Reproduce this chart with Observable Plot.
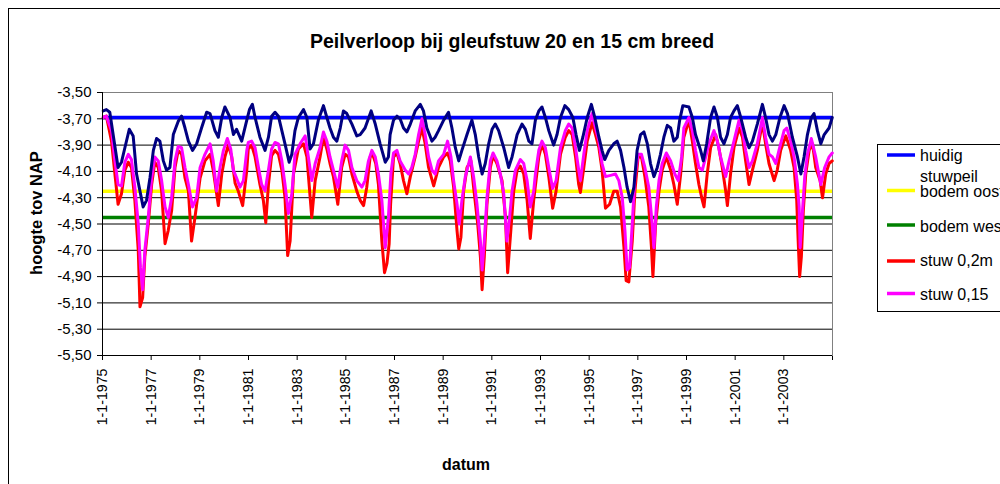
<!DOCTYPE html>
<html><head><meta charset="utf-8">
<script src="https://cdn.jsdelivr.net/npm/d3@7"></script>
<script src="https://cdn.jsdelivr.net/npm/@observablehq/plot@0.6"></script>
<style>
body{margin:0;background:#fff;}
#wrap{position:relative;width:1000px;height:484px;overflow:hidden;font-family:"Liberation Sans",Arial,sans-serif;background:#fff;}
#wrap svg{position:absolute;left:0;top:0;}
#wrap g[aria-label="x-axis tick label"]{font-size:14.2px;}
</style></head><body><div id="wrap"></div>
<script>
// ---- data ----
const titleText = "Peilverloop bij gleufstuw 20 en 15 cm breed";
const xLabel = "datum";
const yLabel = "hoogte tov NAP";
const xTickYears = [1975,1977,1979,1981,1983,1985,1987,1989,1991,1993,1995,1997,1999,2001,2003,2005];
const yTicks = [-5.5,-5.3,-5.1,-4.9,-4.7,-4.5,-4.3,-4.1,-3.9,-3.7,-3.5];
const levelNames = ["huidig stuwpeil","bodem oost","bodem west"];
const levelValues = [-3.69,-4.25,-4.45];
const seriesNames = ["huidig","stuw 0,2m","stuw 0,15"];
const legendLabels = ["huidig stuwpeil","bodem oost","bodem west","stuw 0,2m","stuw 0,15"];

// [decimal year, level m NAP]
const huidig = [
[1975.03,-3.64],[1975.16,-3.63],[1975.30,-3.65],[1975.64,-4.07],[1975.78,-4.03],[1975.92,-3.92],[1976.10,-3.78],[1976.26,-3.83],[1976.40,-4.12],[1976.54,-4.25],[1976.67,-4.37],[1976.81,-4.32],[1976.95,-4.15],[1977.09,-3.94],[1977.22,-3.85],[1977.36,-3.87],[1977.50,-4.02],[1977.63,-4.09],[1977.77,-4.07],[1977.91,-3.82],[1978.11,-3.72],[1978.25,-3.68],[1978.39,-3.77],[1978.53,-3.87],[1978.70,-3.94],[1978.87,-3.89],[1979.07,-3.77],[1979.28,-3.65],[1979.42,-3.66],[1979.62,-3.79],[1979.76,-3.84],[1979.90,-3.69],[1980.03,-3.61],[1980.24,-3.69],[1980.38,-3.82],[1980.51,-3.78],[1980.72,-3.87],[1980.93,-3.71],[1981.04,-3.63],
[1981.16,-3.59],[1981.27,-3.69],[1981.47,-3.84],[1981.68,-3.94],[1981.82,-3.84],[1981.95,-3.68],[1982.09,-3.65],[1982.23,-3.68],[1982.37,-3.79],[1982.50,-3.89],[1982.67,-4.03],[1982.78,-3.97],[1982.91,-3.79],[1983.05,-3.69],[1983.26,-3.63],[1983.40,-3.69],[1983.53,-3.93],[1983.67,-3.89],[1983.87,-3.71],[1984.08,-3.60],[1984.22,-3.69],[1984.35,-3.77],[1984.49,-3.84],[1984.63,-3.87],[1984.77,-3.77],[1984.90,-3.64],[1985.04,-3.66],[1985.25,-3.74],[1985.45,-3.83],[1985.59,-3.82],[1985.79,-3.77],[1986.04,-3.64],[1986.21,-3.74],[1986.41,-3.89],[1986.62,-4.03],[1986.75,-3.99],
[1986.82,-3.82],[1986.96,-3.71],[1987.10,-3.68],[1987.23,-3.70],[1987.37,-3.77],[1987.51,-3.80],[1987.65,-3.74],[1987.85,-3.64],[1988.06,-3.59],[1988.19,-3.64],[1988.33,-3.77],[1988.54,-3.87],[1988.67,-3.84],[1988.81,-3.79],[1989.02,-3.71],[1989.22,-3.65],[1989.36,-3.77],[1989.50,-3.92],[1989.64,-4.02],[1989.77,-3.94],[1989.98,-3.82],[1990.18,-3.71],[1990.32,-3.82],[1990.46,-3.99],[1990.60,-4.12],[1990.73,-4.04],[1990.87,-3.89],[1991.01,-3.78],[1991.14,-3.74],[1991.28,-3.79],[1991.49,-3.92],[1991.69,-4.07],[1991.83,-3.99],[1992.04,-3.82],[1992.24,-3.74],[1992.38,-3.78],[1992.52,-3.87],[1992.65,-3.89],
[1992.79,-3.71],[1992.93,-3.64],[1993.06,-3.61],[1993.20,-3.69],[1993.34,-3.79],[1993.54,-3.90],[1993.68,-3.82],[1993.82,-3.69],[1994.00,-3.60],[1994.16,-3.63],[1994.33,-3.69],[1994.46,-3.82],[1994.60,-3.94],[1994.74,-3.84],[1994.92,-3.69],[1995.09,-3.59],[1995.23,-3.69],[1995.40,-3.84],[1995.53,-3.94],[1995.64,-4.01],[1995.81,-3.94],[1996.01,-3.89],[1996.15,-3.87],[1996.29,-3.94],[1996.43,-4.07],[1996.56,-4.22],[1996.70,-4.33],[1996.84,-4.22],[1996.97,-3.94],[1997.11,-3.82],[1997.25,-3.80],[1997.39,-3.89],[1997.52,-4.04],[1997.66,-4.14],[1997.80,-4.07],[1997.93,-3.97],[1998.07,-3.84],[1998.21,-3.75],[1998.35,-3.77],[1998.48,-3.87],[1998.62,-3.84],
[1998.72,-3.71],[1998.85,-3.60],[1999.10,-3.61],[1999.24,-3.69],[1999.37,-3.82],[1999.58,-3.94],[1999.69,-4.02],[1999.83,-3.89],[1999.99,-3.69],[2000.13,-3.61],[2000.27,-3.69],[2000.40,-3.84],[2000.54,-3.89],[2000.68,-3.82],[2000.81,-3.69],[2000.95,-3.64],[2001.09,-3.60],[2001.23,-3.69],[2001.43,-3.84],[2001.57,-3.92],[2001.71,-3.87],[2001.91,-3.74],[2002.12,-3.59],[2002.25,-3.69],[2002.39,-3.82],[2002.53,-3.87],[2002.67,-3.82],[2002.84,-3.69],[2003.01,-3.60],[2003.15,-3.66],[2003.35,-3.84],[2003.56,-3.99],[2003.70,-4.12],[2003.83,-3.99],[2003.97,-3.82],[2004.13,-3.69],[2004.24,-3.66],[2004.38,-3.79],[2004.52,-3.89],[2004.66,-3.82],[2004.86,-3.77],[2004.99,-3.69]
];

const stuw02 = [
[1975.03,-3.69],[1975.16,-3.68],[1975.37,-3.87],[1975.51,-4.12],[1975.64,-4.35],[1975.78,-4.27],[1975.92,-4.09],[1976.06,-4.03],[1976.19,-4.07],[1976.33,-4.32],[1976.47,-4.70],[1976.54,-5.13],[1976.65,-5.06],[1976.74,-4.75],[1976.88,-4.50],[1977.02,-4.20],[1977.15,-4.03],[1977.29,-4.07],[1977.43,-4.25],[1977.57,-4.65],[1977.70,-4.55],[1977.84,-4.40],[1977.98,-4.07],[1978.11,-3.94],[1978.25,-3.97],[1978.39,-4.15],[1978.53,-4.25],[1978.66,-4.63],[1978.80,-4.45],[1979.01,-4.15],[1979.21,-4.02],[1979.42,-3.97],[1979.55,-4.09],[1979.76,-4.36],[1979.90,-4.12],[1980.03,-3.99],[1980.17,-3.90],[1980.31,-3.99],[1980.45,-4.19],[1980.58,-4.25],[1980.76,-4.36],[1980.93,-4.09],
[1980.99,-3.93],[1981.13,-3.90],[1981.27,-3.99],[1981.47,-4.20],[1981.61,-4.32],[1981.71,-4.49],[1981.82,-4.20],[1981.95,-3.98],[1982.09,-3.94],[1982.23,-3.97],[1982.37,-4.09],[1982.50,-4.30],[1982.61,-4.74],[1982.71,-4.63],[1982.85,-4.12],[1983.05,-3.93],[1983.26,-3.89],[1983.40,-3.99],[1983.60,-4.45],[1983.74,-4.17],[1983.94,-3.99],[1984.08,-3.84],[1984.22,-3.93],[1984.35,-4.04],[1984.49,-4.14],[1984.67,-4.35],[1984.83,-4.07],[1984.97,-3.97],[1985.11,-3.99],[1985.25,-4.12],[1985.45,-4.25],[1985.59,-4.32],[1985.73,-4.36],[1985.86,-4.22],[1986.00,-3.99],[1986.10,-3.97],[1986.23,-4.04],[1986.34,-4.20],[1986.48,-4.63],[1986.59,-4.87],[1986.69,-4.80],[1986.78,-4.65],
[1986.84,-4.35],[1986.96,-3.99],[1987.10,-3.96],[1987.23,-4.04],[1987.37,-4.17],[1987.51,-4.27],[1987.65,-4.14],[1987.85,-3.99],[1987.99,-3.87],[1988.13,-3.77],[1988.26,-3.89],[1988.40,-4.07],[1988.61,-4.21],[1988.81,-4.07],[1989.02,-3.99],[1989.18,-3.96],[1989.29,-4.02],[1989.43,-4.22],[1989.57,-4.55],[1989.64,-4.69],[1989.73,-4.60],[1989.84,-4.25],[1989.98,-4.07],[1990.14,-4.02],[1990.25,-4.22],[1990.42,-4.50],[1990.53,-4.75],[1990.60,-5.00],[1990.69,-4.75],[1990.80,-4.35],[1990.94,-4.07],[1991.05,-3.98],[1991.21,-4.04],[1991.42,-4.17],[1991.56,-4.45],[1991.65,-4.87],[1991.76,-4.60],[1991.90,-4.25],[1992.04,-4.09],[1992.17,-4.06],[1992.31,-4.12],[1992.45,-4.32],[1992.58,-4.61],[1992.72,-4.32],
[1992.93,-3.99],[1993.06,-3.89],[1993.20,-3.97],[1993.34,-4.14],[1993.50,-4.38],[1993.64,-4.25],[1993.82,-3.97],[1994.02,-3.84],[1994.16,-3.79],[1994.30,-3.82],[1994.44,-3.99],[1994.57,-4.20],[1994.64,-4.26],[1994.78,-4.07],[1994.92,-3.87],[1995.12,-3.73],[1995.26,-3.82],[1995.40,-3.92],[1995.53,-4.09],[1995.67,-4.38],[1995.84,-4.35],[1996.01,-4.25],[1996.15,-4.25],[1996.29,-4.37],[1996.43,-4.68],[1996.52,-4.93],[1996.63,-4.94],[1996.77,-4.63],[1996.88,-4.25],[1997.01,-3.99],[1997.15,-3.99],[1997.29,-4.14],[1997.45,-4.37],[1997.56,-4.68],[1997.62,-4.90],[1997.73,-4.50],[1997.87,-4.25],[1998.00,-4.09],[1998.17,-3.99],[1998.35,-4.09],[1998.48,-4.20],[1998.62,-4.35],[1998.76,-4.12],
[1998.89,-3.84],[1999.10,-3.71],[1999.24,-3.87],[1999.37,-4.04],[1999.51,-4.20],[1999.65,-4.32],[1999.72,-4.37],[1999.85,-4.12],[1999.99,-3.92],[2000.20,-3.82],[2000.33,-3.92],[2000.47,-4.07],[2000.61,-4.25],[2000.68,-4.36],[2000.81,-4.12],[2000.95,-3.92],[2001.16,-3.77],[2001.30,-3.84],[2001.43,-4.02],[2001.57,-4.20],[2001.71,-4.09],[2001.91,-3.94],[2002.12,-3.73],[2002.25,-3.89],[2002.39,-4.04],[2002.60,-4.17],[2002.73,-4.09],[2002.87,-3.94],[2003.08,-3.83],[2003.28,-3.94],[2003.42,-4.07],[2003.53,-4.32],[2003.59,-4.63],[2003.65,-4.90],[2003.72,-4.75],[2003.80,-4.40],[2003.90,-4.12],[2004.04,-3.94],[2004.18,-3.89],[2004.31,-4.07],[2004.49,-4.17],[2004.59,-4.30],[2004.72,-4.12],[2004.86,-4.04],[2004.99,-4.02]
];

const stuw015 = [
[1975.03,-3.69],[1975.16,-3.68],[1975.37,-3.79],[1975.51,-4.02],[1975.64,-4.20],[1975.78,-4.21],[1975.92,-4.03],[1976.06,-3.97],[1976.19,-4.01],[1976.33,-4.22],[1976.47,-4.50],[1976.56,-4.83],[1976.65,-5.00],[1976.74,-4.70],[1976.88,-4.45],[1977.02,-4.15],[1977.15,-3.99],[1977.29,-4.02],[1977.43,-4.17],[1977.57,-4.37],[1977.70,-4.45],[1977.84,-4.30],[1977.98,-4.02],[1978.11,-3.91],[1978.25,-3.92],[1978.39,-4.07],[1978.53,-4.20],[1978.70,-4.37],[1978.87,-4.30],[1979.01,-4.07],[1979.21,-3.97],[1979.42,-3.89],[1979.55,-4.02],[1979.69,-4.25],[1979.83,-4.07],[1979.97,-3.94],[1980.13,-3.85],[1980.27,-3.93],[1980.38,-4.09],[1980.51,-4.15],[1980.65,-4.22],[1980.79,-4.17],[1980.93,-3.94],
[1980.99,-3.88],[1981.13,-3.87],[1981.27,-3.92],[1981.41,-4.07],[1981.54,-4.20],[1981.68,-4.25],[1981.82,-4.09],[1981.95,-3.93],[1982.09,-3.88],[1982.23,-3.89],[1982.37,-4.02],[1982.50,-4.20],[1982.64,-4.42],[1982.78,-4.27],[1982.91,-3.97],[1983.12,-3.89],[1983.33,-3.83],[1983.46,-3.99],[1983.60,-4.17],[1983.74,-4.04],[1983.94,-3.92],[1984.08,-3.80],[1984.22,-3.87],[1984.35,-3.99],[1984.49,-4.09],[1984.67,-4.22],[1984.83,-4.02],[1984.97,-3.90],[1985.11,-3.94],[1985.25,-4.07],[1985.45,-4.17],[1985.66,-4.22],[1985.79,-4.17],[1985.93,-4.02],[1986.07,-3.94],[1986.21,-3.99],[1986.34,-4.12],[1986.48,-4.32],[1986.62,-4.68],[1986.75,-4.45],
[1986.85,-4.12],[1986.96,-3.96],[1987.10,-3.94],[1987.23,-4.02],[1987.44,-4.09],[1987.58,-4.12],[1987.71,-4.07],[1987.85,-3.97],[1987.99,-3.82],[1988.13,-3.70],[1988.26,-3.82],[1988.40,-3.99],[1988.54,-4.09],[1988.67,-4.12],[1988.81,-4.02],[1989.02,-3.97],[1989.18,-3.87],[1989.32,-3.99],[1989.43,-4.17],[1989.57,-4.35],[1989.66,-4.50],[1989.77,-4.32],[1989.91,-4.14],[1990.12,-3.99],[1990.25,-4.14],[1990.39,-4.35],[1990.53,-4.63],[1990.60,-4.85],[1990.69,-4.63],[1990.80,-4.30],[1990.94,-4.02],[1991.05,-3.96],[1991.21,-4.02],[1991.35,-4.12],[1991.49,-4.27],[1991.62,-4.63],[1991.73,-4.45],[1991.83,-4.25],[1991.97,-4.09],[1992.17,-4.01],[1992.31,-4.04],[1992.45,-4.17],[1992.58,-4.37],[1992.72,-4.25],
[1992.79,-4.12],[1992.93,-3.94],[1993.06,-3.87],[1993.20,-3.92],[1993.34,-4.07],[1993.50,-4.23],[1993.64,-4.17],[1993.82,-3.92],[1994.02,-3.79],[1994.16,-3.74],[1994.30,-3.77],[1994.44,-3.92],[1994.57,-4.09],[1994.64,-4.17],[1994.78,-3.97],[1994.92,-3.79],[1995.12,-3.66],[1995.26,-3.77],[1995.40,-3.87],[1995.53,-4.04],[1995.67,-4.14],[1995.88,-4.13],[1996.08,-4.12],[1996.22,-4.17],[1996.36,-4.30],[1996.47,-4.55],[1996.56,-4.85],[1996.66,-4.83],[1996.77,-4.50],[1996.88,-4.14],[1997.01,-3.97],[1997.15,-3.97],[1997.29,-4.07],[1997.45,-4.22],[1997.59,-4.50],[1997.66,-4.68],[1997.76,-4.37],[1997.87,-4.17],[1998.00,-4.04],[1998.17,-3.96],[1998.35,-4.02],[1998.52,-4.12],[1998.66,-4.17],[1998.80,-3.99],
[1998.89,-3.77],[1999.10,-3.69],[1999.24,-3.79],[1999.37,-3.94],[1999.51,-4.07],[1999.65,-4.09],[1999.79,-3.99],[1999.92,-3.89],[2000.13,-3.79],[2000.27,-3.87],[2000.40,-3.99],[2000.61,-4.14],[2000.75,-4.02],[2000.95,-3.87],[2001.16,-3.71],[2001.30,-3.79],[2001.43,-3.94],[2001.57,-4.07],[2001.71,-4.02],[2001.91,-3.89],[2002.12,-3.69],[2002.25,-3.84],[2002.39,-3.97],[2002.53,-3.99],[2002.67,-4.04],[2002.80,-3.94],[2003.01,-3.79],[2003.12,-3.77],[2003.28,-3.87],[2003.42,-3.99],[2003.56,-4.20],[2003.63,-4.37],[2003.67,-4.68],[2003.76,-4.42],[2003.86,-4.14],[2003.97,-3.97],[2004.13,-3.85],[2004.31,-3.99],[2004.52,-4.20],[2004.68,-4.07],[2004.86,-3.99],[2004.99,-3.96]
];

// ---- styles ----
const levelColors = ["#0000FF","#FFFF00","#008000"];
const legendColors = ["#0000FF","#FFFF00","#008000","#FF0000","#FF00FF"];
const levels = levelNames.map((n,i) => ({name:n, value:levelValues[i], color:levelColors[i]}));
const gridVals = yTicks.slice(1, -1);
const fmtY = d => d.toFixed(2).replace(".", ",");

const chart = Plot.plot({
  width: 1000, height: 484,
  marginLeft: 102, marginRight: 168, marginTop: 92, marginBottom: 129,
  style: {fontFamily: "'Liberation Sans', Arial, sans-serif", fontSize: "15px", color: "#000", background: "transparent"},
  x: {domain: [1975, 2005], ticks: xTickYears, tickFormat: d => d === 2005 ? "" : `1-1-${d}`, tickRotate: -90, tickSize: 5, tickPadding: 8, label: null},
  y: {domain: [-5.5, -3.5], ticks: yTicks, tickFormat: fmtY, tickSize: 5, tickPadding: 6, label: null},
  marks: [
    Plot.ruleY(gridVals, {stroke: "#000", strokeWidth: 1}),
    Plot.frame({stroke: "#808080"}),
    Plot.ruleY(levels, {y: "value", stroke: "color", strokeWidth: 3.5}),
    Plot.line(stuw02, {x: d => d[0], y: d => d[1], stroke: "#FF0000", strokeWidth: 3}),
    Plot.line(stuw015, {x: d => d[0], y: d => d[1], stroke: "#FF00FF", strokeWidth: 3}),
    Plot.line(huidig, {x: d => d[0], y: d => d[1], stroke: "#000080", strokeWidth: 3}),
    Plot.ruleY([-5.5], {stroke: "#000"}),
    Plot.ruleX([1975], {stroke: "#000"})
  ]
});
const wrap = document.getElementById("wrap");
wrap.appendChild(chart);

// ---- annotations: title, axis titles, legend, chart border ----
const ov = d3.create("svg").attr("width", 1000).attr("height", 484)
  .style("font-family", "'Liberation Sans', Arial, sans-serif");
ov.append("rect").attr("x", 8.5).attr("y", 8.5).attr("width", 1100).attr("height", 1100)
  .attr("fill", "none").attr("stroke", "#000");
ov.append("text").attr("x", 512).attr("y", 48).attr("text-anchor", "middle")
  .style("font-size", "19.5px").style("font-weight", "bold").text(titleText);
ov.append("text").attr("x", 466).attr("y", 470).attr("text-anchor", "middle")
  .style("font-size", "16px").style("font-weight", "bold").text(xLabel);
ov.append("text").attr("transform", "translate(42,213) rotate(-90)").attr("text-anchor", "middle")
  .style("font-size", "16.5px").style("font-weight", "bold").text(yLabel);
const lg = ov.append("g");
lg.append("rect").attr("x", 877.5).attr("y", 144.5).attr("width", 200).attr("height", 167)
  .attr("fill", "#fff").attr("stroke", "#000");
const lineY = [155, 190.5, 225, 261, 293.5];
const textY = [[161, 181.5], [197], [232], [266], [300]];
legendLabels.forEach((lab, i) => {
  lg.append("line").attr("x1", 887).attr("x2", 915).attr("y1", lineY[i]).attr("y2", lineY[i])
    .attr("stroke", legendColors[i]).attr("stroke-width", 3.5);
  const parts = i === 0 ? lab.split(" ") : [lab];
  parts.forEach((p, j) => {
    lg.append("text").attr("x", 920).attr("y", textY[i][j]).style("font-size", "16px").text(p);
  });
});
wrap.appendChild(ov.node());
</script></body></html>
